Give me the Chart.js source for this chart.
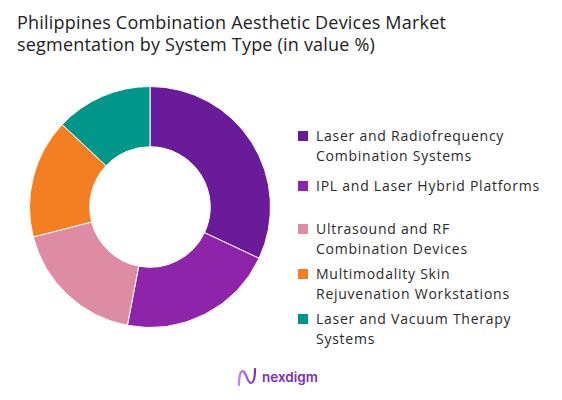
<!DOCTYPE html>
<html>
<head>
<meta charset="utf-8">
<script src="https://cdn.jsdelivr.net/npm/chart.js@4.4.1/dist/chart.umd.min.js"></script>
<style>
  body { margin: 0; background: #fff; font-family: "Open Sans", sans-serif; }
  #wrap { position: relative; width: 562px; height: 400px; overflow: hidden; }
  #title { position: absolute; left: 17px; top: 11px; font-size: 18px; line-height: 22px; color: #222; letter-spacing: 0.2px; }
  #chartBox { position: absolute; left: 29px; top: 86px; width: 242px; height: 242px; }
  #legend { position: absolute; left: 298px; top: 0; }
  .item { position: absolute; left: 0; width: 264px; font-size: 14px; line-height: 20px; color: #2a2a2a; letter-spacing: 0.75px; }
  .sw { position: absolute; left: 0; top: 5px; width: 10px; height: 10px; }
  .txt { position: absolute; left: 18px; top: 0; white-space: nowrap; }
  #logo { position: absolute; left: 236px; top: 366px; display: flex; align-items: center; }
  #logo span { font-family: "Inter", sans-serif; font-weight: 600; font-size: 13.5px; color: #7b2cbf; margin-left: 4px; }
</style>
</head>
<body>
<div id="wrap">
  <div id="title">Philippines Combination Aesthetic Devices Market<br>segmentation by System Type (in value %)</div>
  <div id="chartBox"><canvas id="myChart"></canvas></div>
  <div id="legend"></div>
  <div id="logo">
    <svg width="22" height="22" viewBox="0 0 22 22">
      <defs><linearGradient id="g" x1="0" x2="1"><stop offset="0" stop-color="#c77dff"/><stop offset="1" stop-color="#7b2cbf"/></linearGradient></defs>
      <path d="M3 19 C3 8, 5 3, 8 6 C11 10, 12 17, 15 17 C18 17, 19 10, 19 3" fill="none" stroke="url(#g)" stroke-width="2.2" stroke-linecap="round"/>
    </svg>
    <span>nexdigm</span>
  </div>
</div>
<script>
const labels = [
  ['Laser and Radiofrequency', 'Combination Systems'],
  ['IPL and Laser Hybrid Platforms'],
  ['Ultrasound and RF', 'Combination Devices'],
  ['Multimodality Skin', 'Rejuvenation Workstations'],
  ['Laser and Vacuum Therapy', 'Systems']
];
const shares = [32, 21, 18, 16, 13];
const colors = ['#6a1b9a', '#8e24aa', '#de8ca4', '#f47f22', '#00968a'];
const legendTops = [126, 176, 219, 264, 309];

const legend = document.getElementById('legend');
labels.forEach((l, i) => {
  const it = document.createElement('div');
  it.className = 'item';
  it.style.top = legendTops[i] + 'px';
  it.innerHTML = '<div class="sw" style="background:' + colors[i] + '"></div><div class="txt">' + l.join('<br>') + '</div>';
  legend.appendChild(it);
});

const ctx = document.getElementById('myChart');
new Chart(ctx, {
  type: 'doughnut',
  data: {
    labels: labels.map(l => l.join(' ')),
    datasets: [{
      data: shares,
      backgroundColor: colors,
      borderColor: '#ffffff',
      borderWidth: 1
    }]
  },
  options: {
    maintainAspectRatio: false,
    animation: false,
    cutout: '50%',
    plugins: { legend: { display: false }, tooltip: { enabled: false } }
  }
});
</script>
</body>
</html>
